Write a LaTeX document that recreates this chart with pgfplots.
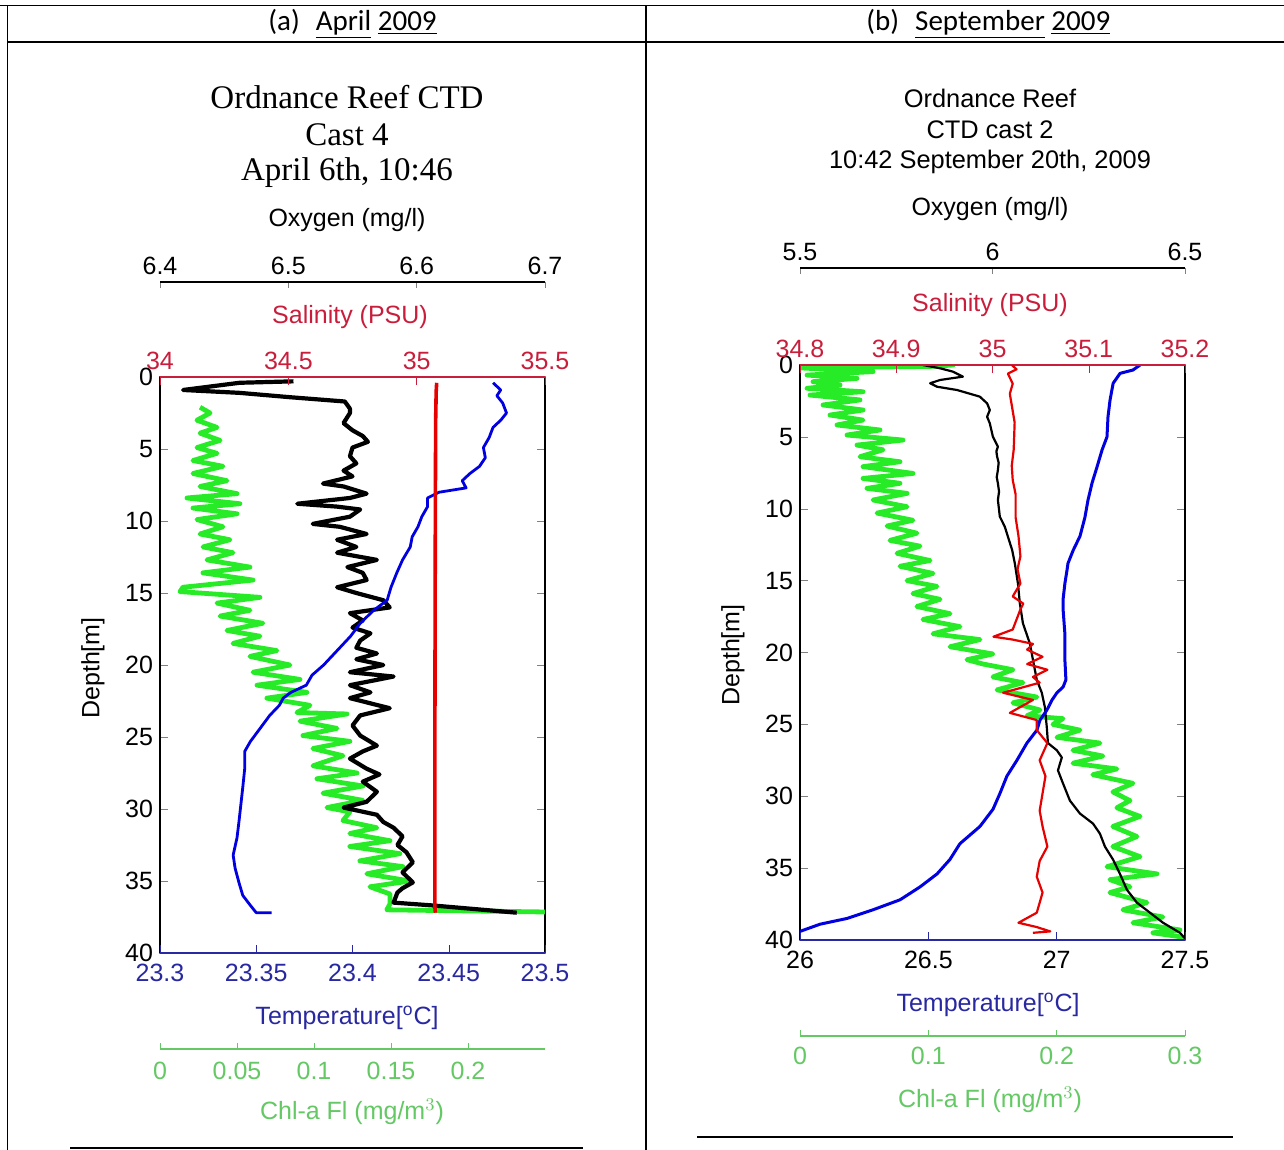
\documentclass[border=0pt]{standalone}
\usepackage{fontspec}
\setmainfont{Liberation Sans}
\newfontfamily\ttlserif{Liberation Serif}
\newfontfamily\hdrfont{Carlito}
\usepackage{pgfplots}
\pgfplotsset{compat=1.18}

\definecolor{tblue}{RGB}{40,40,160}
\definecolor{tline}{RGB}{0,0,225}
\definecolor{sred}{RGB}{200,30,60}
\definecolor{sline}{RGB}{230,0,0}
\definecolor{cgreen}{RGB}{100,200,100}
\definecolor{cline}{RGB}{40,235,40}

\newcommand{\tkfont}{\fontsize{12.5}{14}\selectfont}

\pgfplotsset{
  ctdbox/.style={scale only axis, width=192.5pt, y dir=reverse,
    ymin=0, ymax=40, tick align=inside, major tick length=4pt,
    line join=round},
  hidebox/.style={ctdbox, hide axis},
  scalebar/.style={scale only axis, width=192.5pt, height=20pt,
    ymin=0, ymax=1, hide y axis, tick align=inside, major tick length=3pt,
    xticklabel style={font=\tkfont}},
}

\begin{document}
\begin{tikzpicture}
\useasboundingbox (0,0) rectangle (642pt,-575pt);

% table rules around the two panels
\draw[line width=0.8pt] (0,-2.85pt) -- (642pt,-2.85pt);
\draw[line width=0.8pt] (3.65pt,-21pt) -- (642pt,-21pt);
\draw[line width=0.7pt] (3.65pt,-2.85pt) -- (3.65pt,-575pt);
\draw[line width=0.7pt] (323pt,-2.85pt) -- (323pt,-575pt);
\draw[line width=0.7pt] (35pt,-574pt) -- (291.5pt,-574pt);
\draw[line width=0.7pt] (348.5pt,-568.5pt) -- (616.5pt,-568.5pt);

\node[anchor=west, inner sep=0, font=\hdrfont\fontsize{14.5}{16}\selectfont]
  at (134pt,-12pt) {(a)\hspace{8pt}\underline{April} \underline{2009}};
\node[anchor=west, inner sep=0, font=\hdrfont\fontsize{14.5}{16}\selectfont]
  at (433pt,-12pt) {(b)\hspace{8pt}\underline{September} \underline{2009}};

% ================= panel (a): April 2009 =================
\node[font=\ttlserif\fontsize{16.5}{19}\selectfont] at (173.5pt,-48.5pt) {Ordnance Reef CTD};
\node[font=\ttlserif\fontsize{16.5}{19}\selectfont] at (173.5pt,-67.5pt) {Cast 4};
\node[font=\ttlserif\fontsize{16.5}{19}\selectfont] at (173.5pt,-86.5pt) {April 6th, 10:46};
\node[font=\tkfont] at (173.5pt,-110pt) {Oxygen (mg/l)};
\node[font=\tkfont, text=sred] at (175pt,-158.5pt) {Salinity (PSU)};
\node[font=\tkfont, text=tblue] at (173.5pt,-509pt) {Temperature[$^{\mathrm{o}}$C]};
\node[font=\tkfont, text=cgreen] at (176pt,-556pt) {Chl-a Fl (mg/m$^{3}$)};
\node[font=\tkfont, rotate=90] at (46.5pt,-334pt) {Depth[m]};

% depth frame
\begin{axis}[ctdbox, height=288pt, at={(80pt,-476.5pt)}, anchor=south west,
  xmin=23.3, xmax=23.5, xtick=\empty,
  ytick={0,5,...,40}, ytick pos=both, yticklabel pos=left,
  yticklabel style={font=\tkfont, /pgf/number format/assume math mode=true},
  axis line style={line width=0.6pt}]
\end{axis}
% chlorophyll
\begin{axis}[hidebox, height=288pt, at={(80pt,-476.5pt)}, anchor=south west,
  xmin=0, xmax=0.25]
\addplot[cline, line width=2.4pt] coordinates {
(0.026,2.1) (0.0325,2.5) (0.024,3.0) (0.037,3.5) (0.026,3.9) (0.039,4.4)
(0.024,4.9) (0.037,5.3) (0.0214,5.8) (0.0409,6.2) (0.0214,6.7) (0.0435,7.2)
(0.026,7.6) (0.050,8.1) (0.0175,8.4) (0.0519,8.8) (0.0214,9.1) (0.050,9.5)
(0.024,9.9) (0.0409,10.4) (0.026,10.9) (0.0454,11.3) (0.0279,11.8) (0.0474,12.2)
(0.0305,12.7) (0.0584,13.2) (0.0279,13.6) (0.0604,14.1) (0.0149,14.6) (0.013,14.9)
(0.0649,15.3) (0.037,15.7) (0.0584,16.2) (0.039,16.6) (0.0668,17.1) (0.0435,17.6)
(0.0649,18.0) (0.0474,18.5) (0.0759,19.0) (0.0584,19.4) (0.0844,20.0) (0.0604,20.5)
(0.0909,21.0) (0.063,21.4) (0.0954,21.9) (0.0694,22.3) (0.0974,22.8) (0.0889,23.3)
(0.1214,23.4) (0.0909,23.9) (0.1149,24.4) (0.0928,24.9) (0.1233,25.3) (0.0993,25.8)
(0.1188,26.3) (0.0993,27.0) (0.1279,27.5) (0.1019,27.9) (0.1318,28.4) (0.1058,28.9)
(0.1318,29.4) (0.1084,29.9) (0.1233,30.2) (0.1188,30.8) (0.1408,31.3) (0.1233,31.7)
(0.1493,32.2) (0.1233,32.6) (0.1558,33.1) (0.1298,33.6) (0.1577,34.0) (0.1343,34.5)
(0.1623,35.0) (0.1363,35.4) (0.1493,35.9) (0.1493,36.6) (0.1473,37.0) (0.25,37.15)
};
\end{axis}
% oxygen
\begin{axis}[hidebox, height=288pt, at={(80pt,-476.5pt)}, anchor=south west,
  xmin=6.4, xmax=6.7]
\addplot[black, line width=2.1pt] coordinates {
(6.504,0.3) (6.462,0.4) (6.418,0.9) (6.462,1.1) (6.501,1.4) (6.544,1.7)
(6.548,2.2) (6.548,2.5) (6.543,3.2) (6.550,3.7) (6.558,4.1) (6.562,4.5)
(6.550,4.9) (6.548,5.5) (6.553,6.0) (6.543,6.5) (6.550,6.9) (6.527,7.4)
(6.543,7.6) (6.561,8.1) (6.548,8.4) (6.507,8.8) (6.538,9.0) (6.556,9.2)
(6.548,9.7) (6.519,10.2) (6.540,10.4) (6.561,10.9) (6.538,11.3) (6.553,11.8)
(6.538,12.2) (6.569,12.7) (6.546,13.2) (6.558,13.6) (6.561,14.1) (6.538,14.6)
(6.553,15.0) (6.574,15.5) (6.579,16.0) (6.548,16.4) (6.558,16.9) (6.550,17.4)
(6.564,17.8) (6.556,18.3) (6.553,18.8) (6.569,19.2) (6.553,19.6) (6.574,20.0)
(6.548,20.5) (6.582,20.8) (6.548,21.4) (6.564,21.9) (6.548,22.3) (6.579,23.0)
(6.556,23.5) (6.550,24.2) (6.556,24.9) (6.569,25.6) (6.558,26.0) (6.548,26.5)
(6.561,27.2) (6.571,27.6) (6.558,28.1) (6.569,28.8) (6.561,29.5) (6.543,29.9)
(6.569,30.4) (6.574,30.9) (6.582,31.3) (6.589,31.9) (6.585,32.5) (6.592,33.0)
(6.597,33.7) (6.589,34.4) (6.597,35.1) (6.589,35.5) (6.585,35.8) (6.582,36.5)
(6.613,36.7) (6.639,36.9) (6.678,37.2)
};
\end{axis}
% temperature
\begin{axis}[ctdbox, height=288pt, at={(80pt,-476.5pt)}, anchor=south west,
  xmin=23.3, xmax=23.5, axis x line*=bottom, hide y axis,
  xtick pos=left, xticklabel pos=left,
  xtick={23.3,23.35,23.4,23.45,23.5},
  xticklabels={23.3,23.35,23.4,23.45,23.5},
  x axis line style={tblue, line width=0.6pt, -}, xtick style={tblue},
  xticklabel style={font=\tkfont, text=tblue, yshift=-2pt}]
\addplot[tline, line width=1.4pt] coordinates {
(23.473,0.4) (23.477,0.9) (23.475,1.3) (23.478,1.8) (23.480,2.5) (23.477,3.0)
(23.473,3.5) (23.471,4.2) (23.468,4.9) (23.469,5.6) (23.466,6.2) (23.461,6.7)
(23.457,7.2) (23.459,7.7) (23.445,8.0) (23.439,8.4) (23.439,9.0) (23.436,9.7)
(23.434,10.4) (23.431,11.1) (23.430,11.8) (23.426,12.7) (23.423,13.6) (23.420,14.6)
(23.418,15.5) (23.411,16.2) (23.404,17.1) (23.399,18.0) (23.392,19.0) (23.385,20.0)
(23.379,20.7) (23.376,21.4) (23.368,21.9) (23.364,22.3) (23.362,22.8) (23.357,23.5)
(23.352,24.4) (23.347,25.3) (23.344,26.0) (23.344,27.2) (23.343,28.5) (23.342,29.7)
(23.341,30.9) (23.340,32.0) (23.338,33.2) (23.339,34.1) (23.341,35.1) (23.343,36.0)
(23.347,36.7) (23.350,37.2) (23.358,37.2)
};
\end{axis}
% salinity
\begin{axis}[ctdbox, height=288pt, at={(80pt,-476.5pt)}, anchor=south west,
  xmin=34, xmax=35.5, axis x line*=top, hide y axis,
  xtick pos=right, xticklabel pos=right,
  xtick={34,34.5,35,35.5}, xticklabels={34,34.5,35,35.5},
  x axis line style={sred, line width=0.6pt, -}, xtick style={sred},
  xticklabel style={font=\tkfont, text=sred}]
\addplot[sline, line width=1.8pt] coordinates {
(35.078,0.4) (35.076,1.0) (35.074,3.0) (35.073,8.0) (35.072,15.0)
(35.071,25.0) (35.071,36.8) (35.073,37.2)
};
\end{axis}
% oxygen scale
\begin{axis}[scalebar, at={(80pt,-141pt)}, anchor=north west,
  xmin=6.4, xmax=6.7, axis x line*=top, xtick pos=right, xticklabel pos=right,
  xtick={6.4,6.5,6.6,6.7}, xticklabels={6.4,6.5,6.6,6.7},
  x axis line style={black, line width=0.6pt, -}]
\end{axis}
% chlorophyll scale
\begin{axis}[scalebar, at={(80pt,-524.5pt)}, anchor=south west,
  xmin=0, xmax=0.25, axis x line*=bottom, xtick pos=left, xticklabel pos=left,
  xtick={0,0.05,0.1,0.15,0.2}, xticklabels={0,0.05,0.1,0.15,0.2},
  x axis line style={cgreen, line width=0.6pt, -}, xtick style={cgreen},
  xticklabel style={text=cgreen, yshift=-3pt}]
\end{axis}

% ================= panel (b): September 2009 =================
\node[font=\fontsize{12.7}{15}\selectfont] at (495pt,-49pt) {Ordnance Reef};
\node[font=\fontsize{12.7}{15}\selectfont] at (495pt,-65pt) {CTD cast 2};
\node[font=\fontsize{12.7}{15}\selectfont] at (495pt,-81pt) {10:42 September 20th, 2009};
\node[font=\tkfont] at (495pt,-104.5pt) {Oxygen (mg/l)};
\node[font=\tkfont, text=sred] at (495pt,-152.5pt) {Salinity (PSU)};
\node[font=\tkfont, text=tblue] at (494pt,-502.5pt) {Temperature[$^{\mathrm{o}}$C]};
\node[font=\tkfont, text=cgreen] at (495pt,-550pt) {Chl-a Fl (mg/m$^{3}$)};
\node[font=\tkfont, rotate=90] at (366.5pt,-327.5pt) {Depth[m]};

\begin{axis}[ctdbox, height=287.5pt, at={(400pt,-470pt)}, anchor=south west,
  xmin=26, xmax=27.5, xtick=\empty,
  ytick={0,5,...,40}, ytick pos=both, yticklabel pos=left,
  yticklabel style={font=\tkfont, /pgf/number format/assume math mode=true},
  axis line style={line width=0.6pt}]
\end{axis}
% chlorophyll
\begin{axis}[hidebox, height=287.5pt, at={(400pt,-470pt)}, anchor=south west,
  xmin=0, xmax=0.3]
\addplot[cline, line width=2.4pt] coordinates {
(0,0) (0.1192,0.0) (0.1013,0.1) (0,0.2) (0.0569,0.46) (0.0055,0.7)
(0.0444,0.93) (0.0101,1.16) (0.0312,1.39) (0.0055,1.62) (0.0491,1.86) (0.0078,2.09)
(0.0467,2.43) (0.0179,2.78) (0.0491,3.13) (0.0234,3.48) (0.0491,3.83) (0.0288,4.17)
(0.0623,4.52) (0.0366,4.87) (0.0802,5.22) (0.0444,5.57) (0.0647,5.9) (0.0467,6.38)
(0.0779,6.73) (0.0491,7.07) (0.088,7.54) (0.0491,7.89) (0.0779,8.23) (0.0522,8.58)
(0.0834,8.93) (0.0569,9.39) (0.0834,9.86) (0.06,10.3) (0.088,10.8) (0.0678,11.2)
(0.0911,11.7) (0.0701,12.2) (0.0935,12.6) (0.0756,13.1) (0.1013,13.6) (0.0779,14.0)
(0.1036,14.5) (0.0834,15.0) (0.1067,15.4) (0.088,15.9) (0.1091,16.3) (0.0911,16.8)
(0.1169,17.3) (0.0958,17.7) (0.1246,18.2) (0.1036,18.7) (0.1402,19.1) (0.1169,19.6)
(0.1503,20.1) (0.1301,20.5) (0.1426,20.8) (0.1659,21.2) (0.1503,21.7) (0.1737,22.1)
(0.1535,22.6) (0.1846,23.1) (0.1659,23.5) (0.187,24.0) (0.1768,24.4) (0.2049,24.6)
(0.1971,25.0) (0.2181,25.4) (0.2002,25.9) (0.2337,26.3) (0.2127,26.8) (0.236,27.2)
(0.2127,27.7) (0.2469,28.1) (0.2282,28.5) (0.2594,29.1) (0.2438,29.7) (0.2571,30.3)
(0.2469,30.8) (0.2649,31.4) (0.2438,32.1) (0.2625,32.8) (0.2438,33.5) (0.2649,34.2)
(0.2392,34.9) (0.2781,35.4) (0.2415,35.8) (0.2571,36.3) (0.2415,36.7) (0.2703,37.4)
(0.2516,37.9) (0.2828,38.4) (0.2594,38.8) (0.296,39.3) (0.275,39.5) (0.2984,39.8)
};
\end{axis}
% oxygen
\begin{axis}[hidebox, height=287.5pt, at={(400pt,-470pt)}, anchor=south west,
  xmin=5.5, xmax=6.5]
\addplot[black, line width=1.1pt] coordinates {
(5.819,0) (5.864,0.23) (5.897,0.46) (5.923,0.81) (5.864,1.04) (5.838,1.27)
(5.856,1.51) (5.908,1.74) (5.967,2.2) (5.986,2.67) (5.993,3.13) (5.986,3.6)
(5.993,4.06) (6.001,4.99) (6.014,5.68) (6.010,6.0) (6.012,6.38) (6.016,6.8)
(6.014,7.3) (6.011,7.8) (6.014,8.23) (6.017,8.8) (6.014,9.39) (6.019,10.55)
(6.032,11.25) (6.040,11.94) (6.051,12.87) (6.058,13.8) (6.062,14.5) (6.066,15.19)
(6.071,16.58) (6.079,17.97) (6.097,19.37) (6.105,20.5) (6.115,21.9) (6.128,22.8)
(6.136,23.8) (6.141,25.2) (6.144,26.3) (6.167,26.8) (6.180,27.3) (6.170,28.2)
(6.183,29.1) (6.201,30.3) (6.227,31.2) (6.261,31.9) (6.279,32.6) (6.292,33.5)
(6.313,34.4) (6.331,35.4) (6.349,36.5) (6.375,37.4) (6.409,38.1) (6.443,38.8)
(6.487,39.5) (6.5,39.9)
};
\end{axis}
% temperature
\begin{axis}[ctdbox, height=287.5pt, at={(400pt,-470pt)}, anchor=south west,
  xmin=26, xmax=27.5, axis x line*=bottom, hide y axis,
  xtick pos=left, xticklabel pos=left,
  xtick={26,26.5,27,27.5}, xticklabels={26,26.5,27,27.5},
  x axis line style={tblue, line width=0.6pt, -}, xtick style={tblue},
  xticklabel style={font=\tkfont, text=black, yshift=-2pt}]
\addplot[tline, line width=1.5pt] coordinates {
(27.325,0) (27.297,0.35) (27.247,0.58) (27.220,1.27) (27.208,2.43) (27.200,3.6)
(27.196,5.0) (27.177,5.9) (27.157,7.1) (27.138,8.2) (27.122,9.4) (27.110,10.6)
(27.091,11.9) (27.064,12.9) (27.044,13.8) (27.040,14.3) (27.032,15.2) (27.025,16.3)
(27.025,17.0) (27.032,18.7) (27.032,20.5) (27.036,21.9) (27.025,22.4) (27.001,22.8)
(26.982,23.3) (26.962,24.0) (26.935,24.7) (26.923,25.4) (26.884,26.3) (26.845,27.5)
(26.806,28.6) (26.779,29.8) (26.752,30.9) (26.701,32.1) (26.623,33.3) (26.584,34.4)
(26.534,35.4) (26.468,36.3) (26.390,37.2) (26.284,37.9) (26.183,38.5) (26.078,38.9)
(26.000,39.4)
};
\end{axis}
% salinity
\begin{axis}[ctdbox, height=287.5pt, at={(400pt,-470pt)}, anchor=south west,
  xmin=34.8, xmax=35.2, axis x line*=top, hide y axis,
  xtick pos=right, xticklabel pos=right,
  xtick={34.8,34.9,35,35.1,35.2}, xticklabels={34.8,34.9,35,35.1,35.2},
  x axis line style={sred, line width=0.6pt, -}, xtick style={sred},
  xticklabel style={font=\tkfont, text=sred}]
\addplot[sline, line width=1.1pt] coordinates {
(35.020,0.0) (35.025,0.3) (35.016,0.6) (35.021,1.3) (35.018,2.0) (35.023,4.0)
(35.022,5.9) (35.020,7.0) (35.021,8.0) (35.024,9.0) (35.024,10.6) (35.027,11.9)
(35.029,13.3) (35.026,14.2) (35.029,15.2) (35.021,16.1) (35.032,16.6) (35.029,17.0)
(35.021,18.4) (35.001,18.9) (35.021,19.1) (35.042,19.4) (35.036,19.8) (35.052,20.3)
(35.036,20.8) (35.057,21.2) (35.042,21.7) (35.049,22.1) (35.011,22.8) (35.042,23.3)
(35.018,24.2) (35.046,24.7) (35.046,25.4) (35.057,26.3) (35.049,27.5) (35.055,28.6)
(35.052,29.8) (35.049,31.0) (35.052,32.1) (35.057,33.5) (35.049,34.5) (35.046,35.6)
(35.052,36.7) (35.046,38.1) (35.027,38.8) (35.046,39.1) (35.060,39.4) (35.042,39.5)
};
\end{axis}
% oxygen scale
\begin{axis}[scalebar, at={(400pt,-134pt)}, anchor=north west,
  xmin=5.5, xmax=6.5, axis x line*=top, xtick pos=right, xticklabel pos=right,
  xtick={5.5,6,6.5}, xticklabels={5.5,6,6.5},
  x axis line style={black, line width=0.6pt, -}]
\end{axis}
% chlorophyll scale
\begin{axis}[scalebar, at={(400pt,-518pt)}, anchor=south west,
  xmin=0, xmax=0.3, axis x line*=bottom, xtick pos=left, xticklabel pos=left,
  xtick={0,0.1,0.2,0.3}, xticklabels={0,0.1,0.2,0.3},
  x axis line style={cgreen, line width=0.6pt, -}, xtick style={cgreen},
  xticklabel style={text=cgreen, yshift=-2pt}]
\end{axis}
\end{tikzpicture}
\end{document}
